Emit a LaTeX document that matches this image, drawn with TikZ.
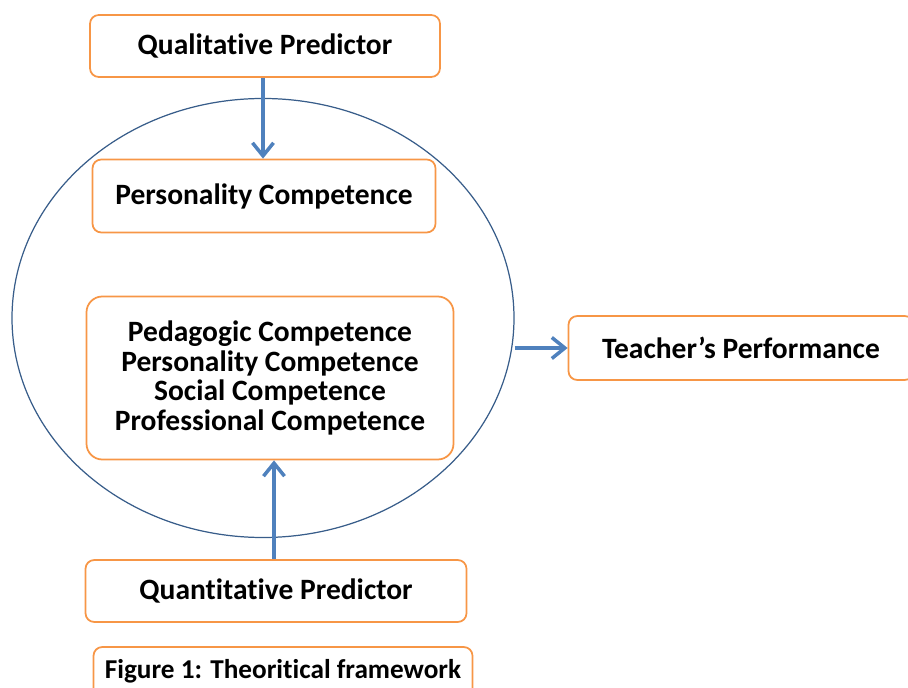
\documentclass[tikz,border=0pt]{standalone}
\usepackage{fontspec}
\setmainfont{Carlito}[Ligatures=NoCommon]
\usepackage{xcolor}
\usetikzlibrary{arrows.meta,positioning,shapes.geometric}
\definecolor{boxorange}{HTML}{F79646}
\definecolor{arrowblue}{HTML}{4F81BD}
\definecolor{ringblue}{HTML}{385D8A}

\begin{document}
\begin{tikzpicture}[
    x=0.02cm, y=-0.02cm,
    block/.style={draw=boxorange, line width=1pt, rounded corners=5pt, align=center, font=\fontsize{16.8}{16.8}\selectfont\bfseries, inner sep=0pt},
    arrow/.style={-{Straight Barb[length=2.6mm, width=4.2mm, line width=2pt]}, line width=2.2pt, arrowblue}
]
\useasboundingbox (0,0) rectangle (908,688);
\node[draw=ringblue, line width=0.7pt, ellipse, minimum width=502*0.02cm, minimum height=439*0.02cm, inner sep=0pt] (ring) at (263,318) {};
\node[block, minimum width=350*0.02cm, minimum height=62*0.02cm] (quali) at (265,46) {Qualitative Predictor};
\node[block, minimum width=343*0.02cm, minimum height=73*0.02cm] (person) at (264,196) {Personality Competence};
\node[block, minimum width=367*0.02cm, minimum height=163*0.02cm, rounded corners=9pt] (comp) at (270,378) {Pedagogic Competence\\Personality Competence\\Social Competence\\Professional Competence};
\node[block, minimum width=345*0.02cm, minimum height=64*0.02cm] (perf) at (741,348) {Teacher’s Performance};
\node[block, minimum width=381*0.02cm, minimum height=62*0.02cm] (quanti) at (276,591) {Quantitative Predictor};
\node[block, minimum width=379*0.02cm, minimum height=50*0.02cm, font=\fontsize{15.5}{16}\selectfont\bfseries] (caption) at (283,672) {\raisebox{3pt}{Figure 1: Theoritical framework}};
\draw[arrow] (quali.south -| 263,0) -- (person.north -| 263,0);
\draw[arrow] (quanti.north -| 274,0) -- (comp.south -| 274,0);
\draw[arrow] (ring.east |- perf.west) -- (perf.west);
\end{tikzpicture}
\end{document}
